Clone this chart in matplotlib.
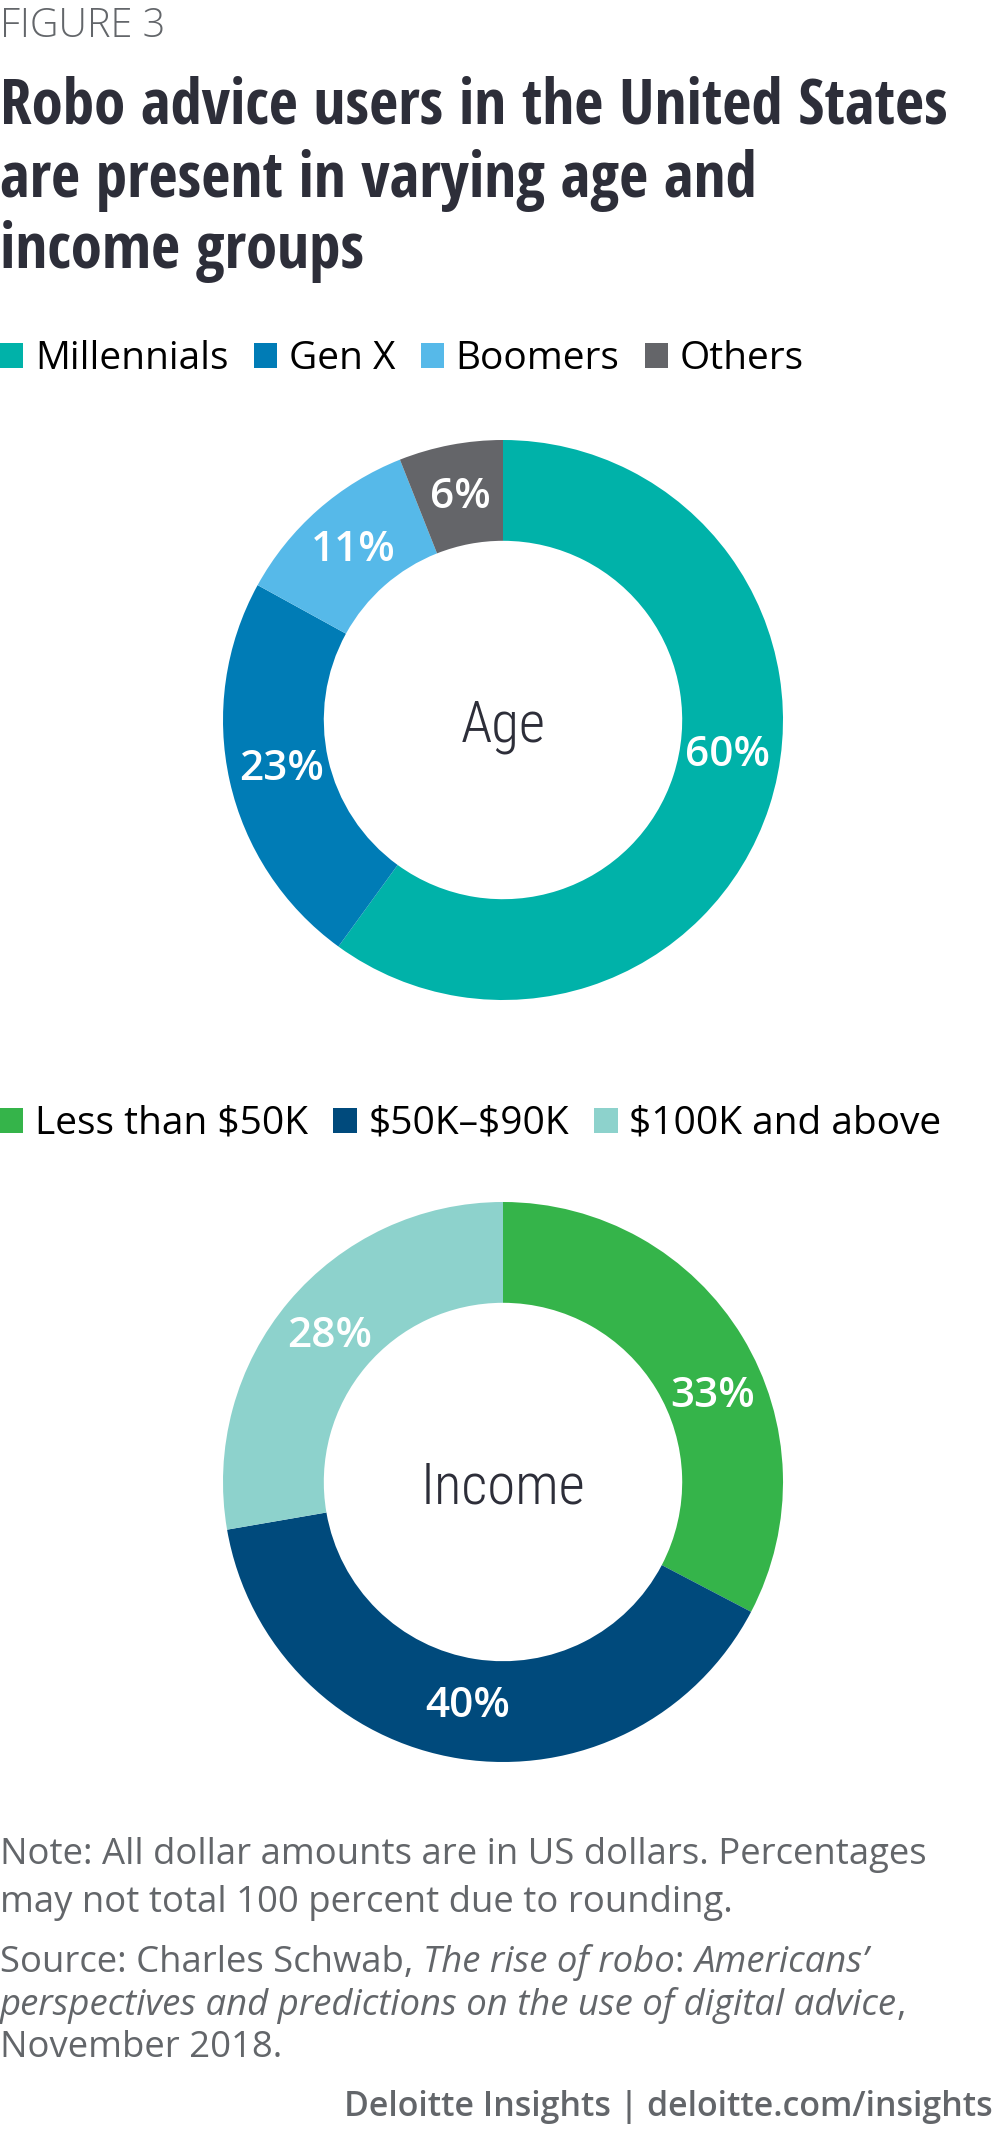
import numpy as np
import matplotlib
matplotlib.use("Agg")
import matplotlib.pyplot as plt
from matplotlib.patches import Patch

plt.rcParams["text.parse_math"] = False

# data
title_lines = ["Robo advice users in the United States", "are present in varying age and", "income groups"]

age_labels = ["Millennials", "Gen X", "Boomers", "Others"]
age_values = [60, 23, 11, 6]
age_colors = ["#00B2A9", "#007CB6", "#56B9E9", "#646569"]

income_labels = ["Less than $50K", "$50K\u2013$90K", "$100K and above"]
income_values = [33, 40, 28]
income_colors = ["#35B44A", "#004A7C", "#8DD2CC"]

# small angle nudges for value labels (degrees), like the original artwork
age_nudge = [9, 0, 0, 0]
income_nudge = [-9, 0, 0]

W, H = 1000, 2141
GRAY = "#63666A"
DARK = "#2D2E39"
BASE = "Open Sans"

fig = plt.figure(figsize=(W / 100, H / 100), dpi=100)


def fy(y):
    return 1 - y / H


fig.text(0, fy(37), "FIGURE 3", family=BASE, weight=300, size=28.5, color=GRAY, va="baseline")
for line, base in zip(title_lines, [124, 197, 268]):
    fig.text(0, fy(base), line, family="Open Sans Condensed", weight="bold", size=45.5,
             color=DARK, va="baseline")


def donut(cy, values, colors, center_label, nudge):
    ax = fig.add_axes([0.223, 1 - (cy + 280) / H, 0.56, 560 / H])
    wedges, _ = ax.pie(values, colors=colors, startangle=90, counterclock=False,
                       radius=1, wedgeprops=dict(width=0.36, linewidth=0))
    ax.set_xlim(-1, 1)
    ax.set_ylim(-1, 1)
    ax.set_aspect("equal")
    ax.axis("off")
    for w, v, d in zip(wedges, values, nudge):
        ang = np.deg2rad((w.theta1 + w.theta2) / 2 + d)
        r = 0.81
        ax.text(r * np.cos(ang), r * np.sin(ang), f"{v}%", ha="center", va="center",
                family=BASE, weight=600, size=30.5, color="white")
    ax.text(0, -0.075, center_label, ha="center", va="baseline",
            family="Roboto Condensed", weight=300, size=41, color=DARK)
    return ax


def legend(y, labels, colors):
    handles = [Patch(facecolor=c, edgecolor="none") for c in colors]
    fig.legend(handles, labels, loc="center left", bbox_to_anchor=(0, fy(y)),
               ncol=len(labels), frameon=False, borderpad=0, borderaxespad=0,
               handlelength=0.6, handleheight=0.6, handletextpad=0.3, columnspacing=0.65,
               prop=dict(family=BASE, size=28))


legend(359, age_labels, age_colors)
donut(720, age_values, age_colors, "Age", age_nudge)
legend(1124, income_labels, income_colors)
donut(1482, income_values, income_colors, "Income", income_nudge)

# footnotes with mixed regular / italic runs
renderer = fig.canvas.get_renderer()


def runs(y, parts):
    x = 0
    for s, style in parts:
        t = fig.text(x, fy(y), s, family=BASE, style=style, size=26.3, color=GRAY, va="baseline")
        bb = t.get_window_extent(renderer)
        x += bb.width / W


runs(1864, [("Note: All dollar amounts are in US dollars. Percentages", "normal")])
runs(1912, [("may not total 100 percent due to rounding.", "normal")])
runs(1972, [("Source: Charles Schwab, ", "normal"), ("The rise of robo", "italic"),
            (": ", "normal"), ("Americans\u2019", "italic")])
runs(2015, [("perspectives and predictions on the use of digital advice", "italic"), (",", "normal")])
runs(2057, [("November 2018.", "normal")])

fig.text(0.993, fy(2116), "Deloitte Insights | deloitte.com/insights", family=BASE, weight=600,
         size=24.4, color=GRAY, ha="right", va="baseline")

fig.savefig("out.png", dpi=100)
